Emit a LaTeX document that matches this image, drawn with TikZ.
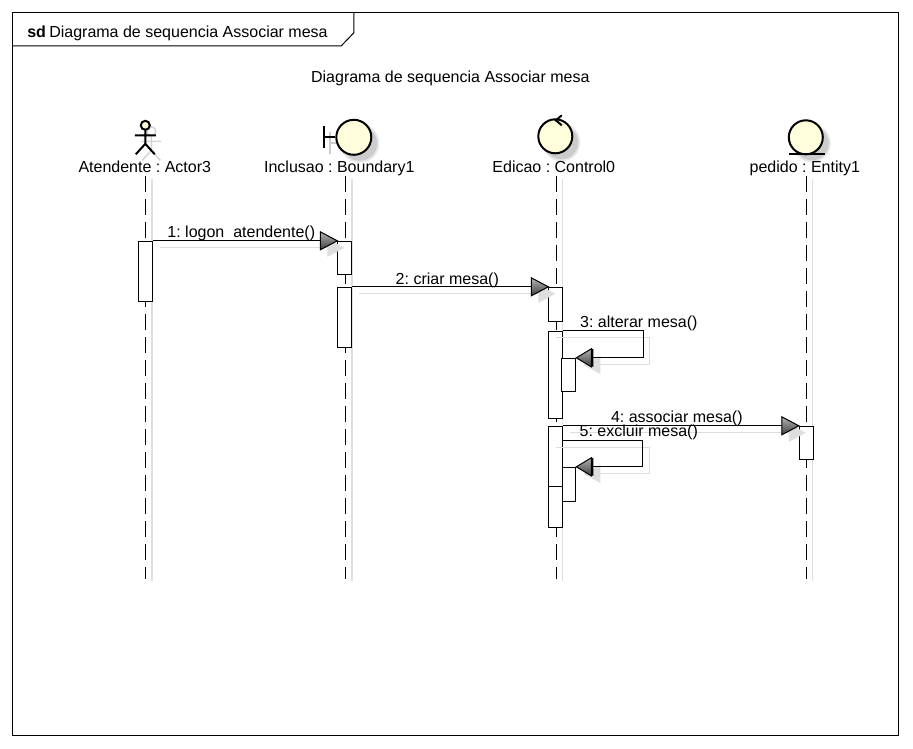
\documentclass[tikz,border=0pt]{standalone}
\usepackage{fontspec}
\setmainfont{Liberation Sans}
\usetikzlibrary{arrows.meta}
\definecolor{cream}{HTML}{FFFDDC}
\begin{document}
\begin{tikzpicture}[
        x=1pt, y=-1pt, line width=1pt,
        lab/.style={inner sep=0pt, anchor=base, font=\fontsize{16}{18}\selectfont\frenchspacing},
        act/.style={draw, fill=white, inner sep=0pt, minimum width=14pt, anchor=north},
        ar/.style={-{Triangle[length=17pt, width=18pt, fill=gray!70!black]}, line width=1.2pt, line join=miter},
        shd/.style={-{Triangle[length=17pt, width=18pt, fill=black!13, color=black!13]}, draw=black!13, line width=1pt, transform canvas={shift={(7,7)}}},
        life/.style={dash pattern=on 16pt off 7pt, line width=1.3pt},
        lifesh/.style={draw=black!13, line width=1.5pt},
        icon/.style={draw, line width=2pt, fill=cream},
        iconsh/.style={fill=black!20},
        iconsf/.style={fill=black!9},
        tipr/.pic={\draw[line width=1pt, top color=gray!60, bottom color=black!75] (-17,-9) -- (0,0) -- (-17,9) -- cycle;},
        tipl/.pic={\draw[line width=1pt, top color=gray!60, bottom color=black!75] (15,-9) -- (0,0) -- (15,9) -- cycle;},
    ]
    \useasboundingbox (0.7,0.7) rectangle (913.7,748.7);

    % frame
    \coordinate (fa) at (13.5,13.5);
    \coordinate (fb) at (899.5,736.5);
    \draw (fa) rectangle (fb);
    \draw (13.5,46.5) -- (342,46.5) -- (354.5,33.5) -- (354.5,13.5);
    \node[lab, anchor=base west] (sd) at (27.5,38) {\textbf{sd}};
    \node[lab, anchor=base west] (sdname) at (49.5,38) {Diagrama de sequencia Associar mesa};
    \node[lab] (title) at (451,83) {Diagrama de sequencia Associar mesa};

    % lifelines
    \coordinate (t1) at (146,177);
    \coordinate (t2) at (346,177);
    \coordinate (t3) at (557,177);
    \coordinate (t4) at (807,177);
    \coordinate (u1) at (146,580);
    \coordinate (u2) at (346,580);
    \coordinate (u3) at (557,580);
    \coordinate (u4) at (807,580);
    \draw[lifesh] (152.5,180) -- (152.5,582);
    \draw[lifesh] (352.5,180) -- (352.5,582);
    \draw[lifesh] (563,180) -- (563,582);
    \draw[lifesh] (813,180) -- (813,582);
    \draw[life] (t1) -- (u1);
    \draw[life] (t2) -- (u2);
    \draw[life] (t3) -- (u3);
    \draw[life] (t4) -- (u4);

    % actor
    \draw[black!16, line width=1.6pt] (152,132) circle (4.5) (152,137) -- (152,151) (142,142) -- (162,142) (143,161) -- (152,151) -- (161,161);
    \draw[line width=2pt, fill=cream] (146,126) circle (4.5);
    \draw[line width=2pt] (146,131) -- (146,144.5) (135.5,136) -- (156.5,136) (136.5,155) -- (146,144.5) -- (155.5,155);
    % boundary
    \draw[black!20, line width=2pt] (331,133) -- (331,155) (331,144) -- (343,144);
    \fill[iconsf] (360.5,144) circle (19.5);
    \fill[iconsh] (360.5,144) circle (17.5);
    \draw[line width=2pt] (325,127) -- (325,149) (325,138) -- (336,138);
    \draw[icon] (354.5,138) circle (17.5);
    % control
    \fill[iconsf] (562,143) circle (19);
    \fill[iconsh] (562,143) circle (17);
    \draw[icon] (556,137) circle (17);
    \draw[line width=2pt] (562.5,116) -- (556.5,121) -- (562.5,126);
    % entity
    \fill[iconsf] (812.5,144) circle (19);
    \fill[iconsh] (812.5,144) circle (17);
    \draw[icon] (806.5,138) circle (17);
    \draw[line width=2pt] (789.5,154.5) -- (825.5,154.5);

    \node[lab] (actor) at (145.5,173) {Atendente : Actor3};
    \node[lab] (bound) at (340,173) {Inclusao : Boundary1};
    \node[lab] (contr) at (554.5,173) {Edicao : Control0};
    \node[lab] (entit) at (805.5,173) {pedido : Entity1};

    % activations
    \node[act, minimum height=60pt] (a1) at (146,241.5) {};
    \node[act, minimum height=33pt] (b1) at (345.5,241.5) {};
    \node[act, minimum height=60pt] (b2) at (345.5,287.5) {};
    \node[act, minimum height=34pt] (c1) at (556.5,287.5) {};
    \node[act, minimum height=87pt] (c2) at (556.5,331.5) {};
    \node[act, minimum height=33pt] (c3) at (569.5,358.5) {};
    \node[act, minimum height=34pt] (c5) at (569.5,467.5) {};
    \node[act, minimum height=60pt] (c4) at (556.5,426.5) {};
    \node[act, minimum height=41pt] (c6) at (556.5,486.5) {};
    \node[act, minimum height=33pt] (e1) at (807,426.5) {};
    \coordinate (c7) at (563.5,441.5);

    % message shadows
    \draw[shd] (a1.north east) -- (b1.north west);
    \draw[shd] (b2.north east) -- (c1.north west);
    \draw[shd] ([xshift=-7pt]c2.north) -- ++(94,0) -- ++(0,27) -- (c3.north east);
    \draw[shd] (c4.north east) -- (e1.north west);
    \draw[shd] ([xshift=-7pt,yshift=-15pt]c4.north) -- ++(94,0) -- ++(0,26) -- (c5.north east);

    % messages
    \draw[ar] (a1.north east) -- (b1.north west);
    \pic at (b1.north west) {tipr};
    \draw[ar] (b2.north east) -- (c1.north west);
    \pic at (c1.north west) {tipr};
    \draw[ar] (c2.north east) -- ++(80,0) -- ++(0,27) -- (c3.north east);
    \pic at (c3.north east) {tipl};
    \draw[ar] (c4.north east) -- (e1.north west);
    \pic at (e1.north west) {tipr};
    \draw[ar] (c7) -- ++(80,0) -- ++(0,26) -- (c5.north east);
    \pic at (c5.north east) {tipl};

    \node[lab] (m1) at (242,238) {1: logon\ \ atendente()};
    \node[lab] (m2) at (448,285) {2: criar mesa()};
    \node[lab] (m3) at (639.5,328) {3: alterar mesa()};
    \node[lab] (m4) at (677.5,423) {4: associar mesa()};
    \node[lab] (m5) at (639.5,437) {5: excluir mesa()};
    \end{tikzpicture}
\end{document}
